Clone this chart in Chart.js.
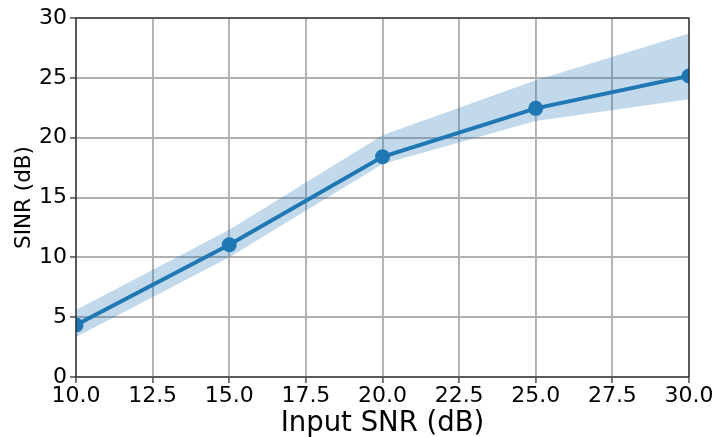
<!DOCTYPE html>
<html><head><meta charset="utf-8">
<script src="https://cdn.jsdelivr.net/npm/chart.js@4/dist/chart.umd.min.js"></script>
<style>html,body{margin:0;padding:0;background:#fff}#wrap{width:716px;height:437px}</style>
</head><body><div id="wrap"><canvas id="c" width="716" height="437"></canvas></div>
<script>
const snr = [10, 15, 20, 25, 30];
const sinrMean = [4.35, 11.05, 18.4, 22.45, 25.15];
const sinrUpper = [5.6, 12.3, 20.2, 24.8, 28.7];
const sinrLower = [3.35, 10.0, 17.8, 21.4, 23.2];
const xTicks = [10, 12.5, 15, 17.5, 20, 22.5, 25, 27.5, 30];
const yTicks = [0, 5, 10, 15, 20, 25, 30];

const toPts = arr => snr.map((x, i) => ({x: x, y: arr[i]}));
const font = 'DejaVu Sans';

const frame = {
  id: 'frame',
  afterDatasetsDraw(chart) {
    const a = chart.chartArea, ctx = chart.ctx;
    ctx.save();
    ctx.strokeStyle = '#222';
    ctx.lineWidth = 1.2;
    ctx.strokeRect(a.left, a.top, a.right - a.left, a.bottom - a.top);
    ctx.restore();
  }
};

new Chart(document.getElementById('c'), {
  type: 'line',
  data: {
    datasets: [
      {data: toPts(sinrUpper), borderWidth: 0, pointRadius: 0, fill: '+1', backgroundColor: 'rgba(31,119,180,0.28)', order: 3},
      {data: toPts(sinrLower), borderWidth: 0, pointRadius: 0, fill: false, order: 3},
      {data: toPts(sinrMean), borderColor: '#1f77b4', backgroundColor: '#1f77b4', borderWidth: 4, pointRadius: 7.5, pointHoverRadius: 7.5, pointBorderWidth: 0, fill: false, order: 1}
    ]
  },
  options: {
    responsive: false,
    animation: false,
    layout: {padding: {top: 18, right: 27, left: 10, bottom: 0}},
    plugins: {legend: {display: false}, tooltip: {enabled: false}},
    scales: {
      x: {
        type: 'linear', min: 10, max: 30,
        afterBuildTicks: s => { s.ticks = xTicks.map(v => ({value: v})); },
        afterFit: s => { s.height = 60; },
        ticks: {callback: v => v.toFixed(1), color: '#000', font: {family: font, size: 22}, padding: 0, maxRotation: 0},
        grid: {color: '#b0b0b0', lineWidth: 1.9, tickColor: '#222', tickLength: 6, tickWidth: 1.2},
        border: {display: false},
        title: {display: true, text: 'Input SNR (dB)', color: '#000', font: {family: font, size: 27.5}, padding: {top: 0, bottom: -3}}
      },
      y: {
        type: 'linear', min: 0, max: 30,
        afterBuildTicks: s => { s.ticks = yTicks.map(v => ({value: v})); },
        afterFit: s => { s.width = 66; },
        ticks: {color: '#000', font: {family: font, size: 22}, padding: 3},
        grid: {color: '#b0b0b0', lineWidth: 1.9, tickColor: '#222', tickLength: 6, tickWidth: 1.2},
        border: {display: false},
        title: {display: true, text: 'SINR (dB)', color: '#000', font: {family: font, size: 21.5}, padding: {top: 2, bottom: 2}}
      }
    }
  },
  plugins: [frame]
});
</script></body></html>
